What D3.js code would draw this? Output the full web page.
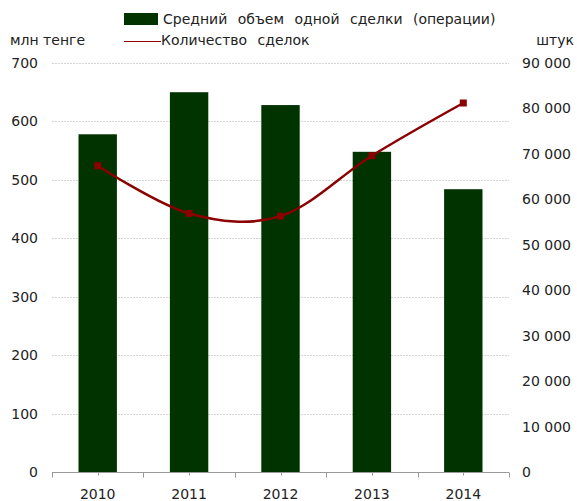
<!DOCTYPE html>
<html>
<head>
    <meta charset="utf-8">
    <title>Сделки</title>
    <script src="https://cdn.jsdelivr.net/npm/d3@7/dist/d3.min.js"></script>
    <style type="text/css">
        body { margin: 0; background: #fff; }
        .chart text {
            font-family: "DejaVu Sans", Verdana, sans-serif;
            font-size: 14px;
            fill: #222;
        }
    </style>
</head>
<body>
    <svg class="chart"></svg>

    <script type="text/javascript">
    var years = ['2010', '2011', '2012', '2013', '2014'];
    var avgDeal = [578, 650, 628, 548, 484];          // млн тенге
    var dealCount = [67400, 56900, 56300, 69600, 81200]; // штук
    var leftTicks = [0, 100, 200, 300, 400, 500, 600, 700];
    var rightTicks = [0, 10000, 20000, 30000, 40000, 50000, 60000, 70000, 80000, 90000];

    var width = 577;
    var height = 501;
    var margin = { top: 63, right: 68, bottom: 29, left: 52 };

    var svg = d3.select('.chart')
        .attr('width', width)
        .attr('height', height);

    var x = d3.scaleBand()
        .domain(years)
        .range([margin.left, width - margin.right])
        .paddingInner(0.58)
        .paddingOuter(0.29);

    var yLeft = d3.scaleLinear()
        .domain([0, 700])
        .range([height - margin.bottom, margin.top]);

    var yRight = d3.scaleLinear()
        .domain([0, 90000])
        .range([height - margin.bottom, margin.top]);

    // gridlines
    svg.append('g')
        .selectAll('line')
        .data(leftTicks.slice(1))
        .enter()
            .append('line')
            .attr('x1', margin.left)
            .attr('x2', width - margin.right)
            .attr('y1', function (d) { return Math.round(yLeft(d)) + 0.5; })
            .attr('y2', function (d) { return Math.round(yLeft(d)) + 0.5; })
            .attr('stroke', '#d4d4d4')
            .attr('stroke-dasharray', '2,1');

    // left axis labels
    var leftAxis = svg.append('g')
        .attr('transform', 'translate(' + margin.left + ',0)')
        .call(d3.axisLeft(yLeft).tickValues(leftTicks).tickSize(0).tickPadding(14));
    leftAxis.select('.domain').remove();

    // right axis labels
    var rightAxis = svg.append('g')
        .attr('transform', 'translate(' + (width - margin.right) + ',0)')
        .call(d3.axisRight(yRight)
            .tickValues(rightTicks)
            .tickSize(0)
            .tickPadding(13)
            .tickFormat(function (d) { return d3.format(',')(d).replace(/,/g, ' '); }));
    rightAxis.select('.domain').remove();

    // bars
    svg.append('g')
        .selectAll('rect')
        .data(avgDeal)
        .enter()
            .append('rect')
            .attr('x', function (d, i) { return x(years[i]); })
            .attr('width', x.bandwidth())
            .attr('y', function (d) { return yLeft(d); })
            .attr('height', function (d) { return yLeft(0) - yLeft(d); })
            .attr('fill', '#003300');

    // x axis line + ticks
    var base = yLeft(0) + 0.5;
    var step = x.step();
    var xAxis = svg.append('g');
    xAxis.append('line')
        .attr('x1', margin.left)
        .attr('x2', width - margin.right)
        .attr('y1', base)
        .attr('y2', base)
        .attr('stroke', '#999');
    var edges = d3.range(years.length + 1).map(function (i) { return margin.left + i * step; });
    xAxis.selectAll('.edge')
        .data(edges)
        .enter()
            .append('line')
            .attr('class', 'edge')
            .attr('x1', function (d) { return Math.round(d) + 0.5; })
            .attr('x2', function (d) { return Math.round(d) + 0.5; })
            .attr('y1', base)
            .attr('y2', base + 5)
            .attr('stroke', '#999');
    xAxis.selectAll('.mid')
        .data(years)
        .enter()
            .append('line')
            .attr('class', 'mid')
            .attr('x1', function (d) { return Math.round(x(d) + x.bandwidth() / 2) + 0.5; })
            .attr('x2', function (d) { return Math.round(x(d) + x.bandwidth() / 2) + 0.5; })
            .attr('y1', base)
            .attr('y2', base + 3)
            .attr('stroke', '#999');
    xAxis.selectAll('text')
        .data(years)
        .enter()
            .append('text')
            .attr('x', function (d) { return x(d) + x.bandwidth() / 2; })
            .attr('y', 499)
            .attr('text-anchor', 'middle')
            .text(function (d) { return d; });

    // smoothed line
    var pts = dealCount.map(function (d, i) {
        return [x(years[i]) + x.bandwidth() / 2, yRight(d)];
    });
    var line = d3.line().curve(d3.curveCardinal.tension(0));

    svg.append('path')
        .attr('d', line(pts))
        .attr('fill', 'none')
        .attr('stroke', '#8b0000')
        .attr('stroke-width', 2.5);

    svg.append('g')
        .selectAll('rect')
        .data(pts)
        .enter()
            .append('rect')
            .attr('x', function (d) { return d[0] - 3.5; })
            .attr('y', function (d) { return d[1] - 3.5; })
            .attr('width', 7)
            .attr('height', 7)
            .attr('fill', '#8b0000');

    // units
    svg.append('text').attr('x', 10).attr('y', 45).text('млн тенге');
    svg.append('text').attr('x', 574).attr('y', 45).attr('text-anchor', 'end').text('штук');

    // legend
    svg.append('rect')
        .attr('x', 124).attr('y', 13)
        .attr('width', 34).attr('height', 12)
        .attr('fill', '#003300');
    svg.append('text')
        .attr('x', 163).attr('y', 24)
        .attr('word-spacing', 6)
        .text('Средний объем одной сделки (операции)');
    svg.append('line')
        .attr('x1', 124).attr('x2', 161)
        .attr('y1', 41.5).attr('y2', 41.5)
        .attr('stroke', '#8b0000');
    svg.append('text')
        .attr('x', 161).attr('y', 45)
        .attr('word-spacing', 6)
        .text('Количество сделок');
    </script>
</body>
</html>
